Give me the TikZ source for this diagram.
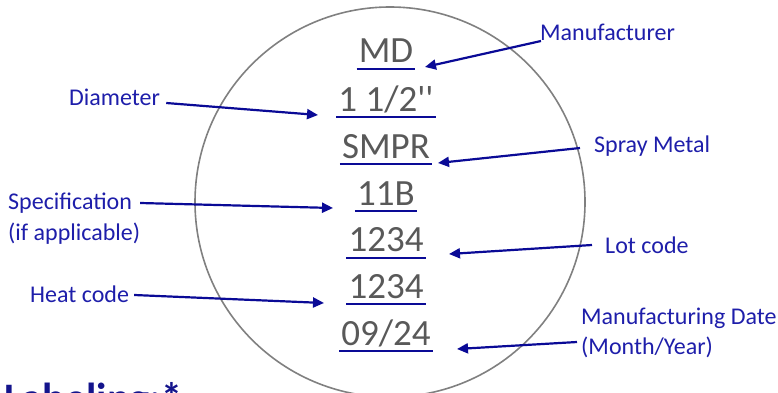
\documentclass[tikz,border=0pt]{standalone}
\usepackage{fontspec}
\setmainfont{Carlito}
\newfontfamily\valfont{Carlito}[Ligatures=TeXOff]
\usetikzlibrary{arrows.meta}
\definecolor{lblc}{RGB}{30,30,170}
\definecolor{arrc}{RGB}{10,10,150}
\definecolor{txtc}{RGB}{89,89,89}
\definecolor{ringc}{RGB}{128,128,128}
\definecolor{titlec}{RGB}{20,20,140}
\begin{document}
\begin{tikzpicture}[x=1pt,y=-1pt,
  valtext/.style={inner sep=0pt,anchor=base,text=txtc,font=\valfont\fontsize{37}{40}\selectfont},
  lbltext/.style={inner sep=0pt,anchor=base west,text=lblc,font=\fontsize{24}{26}\selectfont},
  uline/.style={draw=arrc,line width=2pt},
  pointer/.style={draw=arrc,line width=2.2pt,-{Triangle[length=11pt,width=10pt]}},
  ringline/.style={draw=ringc,line width=1.6pt}
]
\useasboundingbox (0,0) rectangle (778,393);
% ring
\draw[ringline] (390,202) circle[radius=195pt];
% values
\node[valtext] (md) at (386,63) {MD};
\node[valtext] (dm) at (386,111) {1 1/2''};
\node[valtext] (sm) at (386,158) {SMPR};
\node[valtext] (sp) at (386,205) {11B};
\node[valtext] (lc) at (386,251.5) {1234};
\node[valtext] (hc) at (386,298) {1234};
\node[valtext] (dt) at (386,345) {09/24};
\foreach \n in {md,dm,sm,sp,lc,hc,dt}{
  \draw[uline] ([shift={(-2pt,-6pt)}]\n.base west) -- ([shift={(2pt,-6pt)}]\n.base east);
}
% labels
\node[lbltext] (manu) at (540,41) {Manufacturer};
\node[lbltext] (dia) at (69,106) {Diameter};
\node[lbltext] (spray) at (594,152) {Spray Metal};
\node[lbltext] (spec) at (8,209) {Specification};
\node[lbltext] (spec2) at (8,240) {(if applicable)};
\node[lbltext] (lot) at (605,253) {Lot code};
\node[lbltext] (heat) at (30,302) {Heat code};
\node[lbltext] (mdate) at (581,324) {Manufacturing Date};
\node[lbltext] (mdate2) at (581,354) {(Month/Year)};
% tips
\coordinate (tmanu) at (425,67);
\coordinate (tdia) at (318,115);
\coordinate (tspray) at (438,163);
\coordinate (tspec) at (333,208);
\coordinate (tlot) at (449,254);
\coordinate (theat) at (324,303);
\coordinate (tdate) at (457,349);
% arrows
\draw[pointer] ([xshift=1pt]manu.base west) -- (tmanu);
\draw[pointer] ([shift={(6pt,3pt)}]dia.base east) -- (tdia);
\draw[pointer] ([shift={(-14pt,4pt)}]spray.base west) -- (tspray);
\draw[pointer] ([shift={(8pt,6pt)}]spec.base east) -- (tspec);
\draw[pointer] ([shift={(-13pt,8pt)}]lot.base west) -- (tlot);
\draw[pointer] ([shift={(5pt,7pt)}]heat.base east) -- (theat);
\draw[pointer] ([shift={(-4pt,12pt)}]mdate2.base west) -- (tdate);
% title (cut off at the bottom edge, as in the reference)
\node[inner sep=0pt,anchor=base west,text=titlec,font=\bfseries\fontsize{42}{44}\selectfont] (title) at (4,412) {Labeling:*};
\end{tikzpicture}
\end{document}
